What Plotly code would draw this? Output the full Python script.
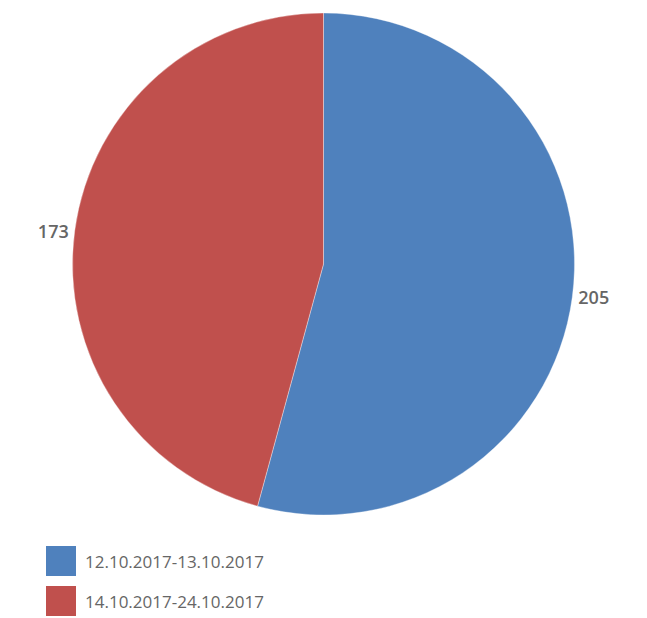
import plotly.graph_objects as go

# Counts per date range
periods = ["12.10.2017-13.10.2017", "14.10.2017-24.10.2017"]
counts = [205, 173]
colors = ["#4F81BD", "#C0504D"]

W, H = 647, 618

fig = go.Figure(
    go.Pie(
        labels=periods,
        values=counts,
        sort=False,
        direction="clockwise",
        rotation=0,
        marker=dict(colors=colors, line=dict(color="rgba(255,255,255,0.6)", width=0.6)),
        textinfo="value",
        textposition="outside",
        outsidetextfont=dict(family="Open Sans", size=18, color="#666666", weight=600),
        hoverinfo="label+value+percent",
        showlegend=False,
    )
)

# Legend drawn as large swatches with text beside them
shapes = []
annotations = []
for i, (name, col) in enumerate(zip(periods, colors)):
    y0 = 546 + i * 40
    shapes.append(dict(
        type="rect", xref="paper", yref="paper",
        x0=(46 - 72) / 503, x1=(76 - 72) / 503,
        y0=(H - 103 - (y0 + 30)) / 502, y1=(H - 103 - y0) / 502,
        fillcolor=col, line=dict(width=0),
    ))
    annotations.append(dict(
        text=name, xref="paper", yref="paper",
        x=(83 - 72) / 503, y=(H - 103 - (y0 + 15)) / 502,
        xanchor="left", yanchor="middle", showarrow=False,
        font=dict(family="Open Sans", size=17, color="#666666"),
    ))

fig.update_layout(
    width=W, height=H,
    margin=dict(l=72, r=72, t=13, b=103),
    paper_bgcolor="white",
    plot_bgcolor="white",
    shapes=shapes,
    annotations=annotations,
)

fig.write_html("out.html")
